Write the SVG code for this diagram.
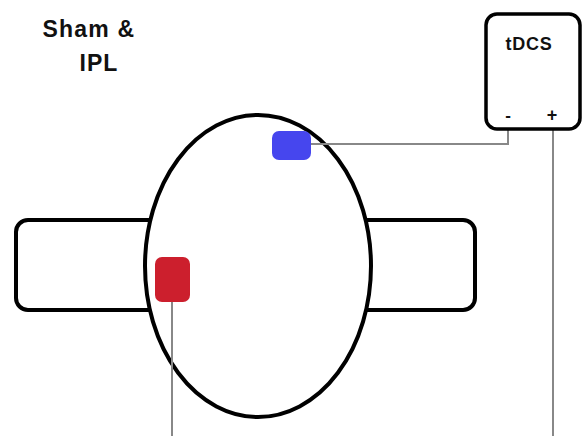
<svg xmlns="http://www.w3.org/2000/svg" width="585" height="436" viewBox="0 0 585 436">
<style>
.lbl{font-family:"Liberation Sans",Arial,sans-serif;font-weight:bold;fill:#111}
.wire{fill:none;stroke:#888;stroke-width:2}
.outline{fill:#fff;stroke:#000;stroke-width:4}
</style>
<rect width="585" height="436" fill="#fff"/>
<g id="title"><text class="lbl" x="89" y="37" font-size="23" text-anchor="middle" letter-spacing="1.2">Sham &amp;</text><text class="lbl" x="99" y="71" font-size="23" text-anchor="middle" letter-spacing="1">IPL</text></g>
<g id="band"><rect class="outline" x="16" y="220" width="459" height="90" rx="12"/></g>
<g id="head"><ellipse class="outline" cx="258" cy="266" rx="113" ry="151"/></g>
<g id="connectors">
<polyline class="wire" points="311,144 508,144 508,130"/>
<line class="wire" x1="553" y1="130" x2="553" y2="436"/>
<line class="wire" x1="172" y1="302" x2="172" y2="436"/>
</g>
<g id="anode"><rect x="155" y="257" width="35" height="45" rx="7" fill="#cc1f2d"/></g>
<g id="cathode"><rect x="272" y="131" width="39" height="29" rx="7" fill="#4646ee"/></g>
<g id="tdcs"><rect x="486" y="14" width="94" height="115" rx="11" fill="#fff" stroke="#000" stroke-width="3.5"/>
<text class="lbl" x="529" y="50" font-size="18" text-anchor="middle" letter-spacing="0.8">tDCS</text>
<text class="lbl" x="508" y="121" font-size="17" text-anchor="middle">-</text>
<text class="lbl" x="552" y="121" font-size="18" text-anchor="middle">+</text></g>
</svg>
